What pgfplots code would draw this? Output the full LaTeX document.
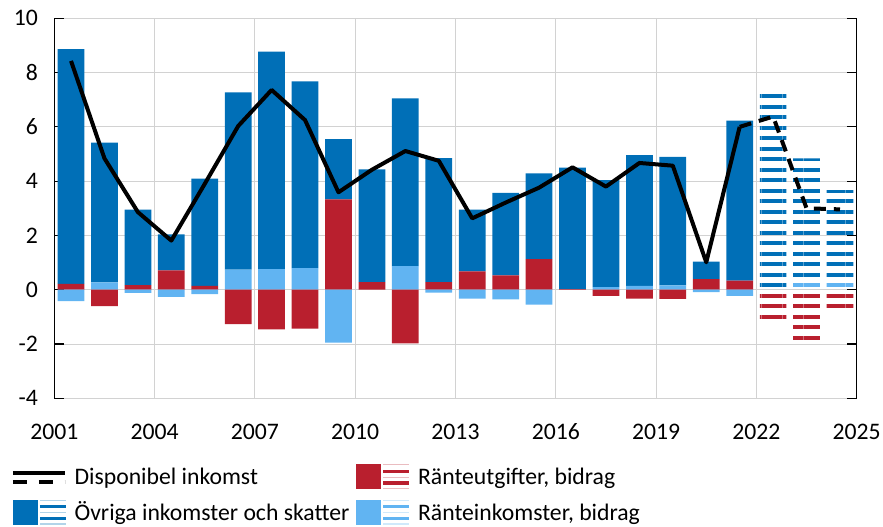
\documentclass[border=0pt]{standalone}
\usepackage{fontspec}
\setmainfont{Carlito}
\usepackage{pgfplots}
\usepackage{pgfplotstable}
\pgfplotsset{compat=1.18}
\usetikzlibrary{patterns.meta}
\definecolor{dblue}{RGB}{0,111,183}
\definecolor{lblue}{RGB}{97,180,242}
\definecolor{dred}{RGB}{185,31,46}
\definecolor{gridgray}{RGB}{210,210,210}
\tikzset{fstripe/.style={pattern={Lines[angle=0,distance=10.5bp,line width=4bp]},pattern color=#1}}
\pgfplotsset{stripeicon/.style={legend image code/.code={
    \path[fill=#1, draw=none] (0bp,-10.5bp) rectangle (25bp,14.5bp);
    \draw[#1!30, line width=1.2bp] (27bp,13.9bp) -- (53bp,13.9bp);
    \draw[#1!30, line width=1.2bp] (27bp,1.3bp) -- (53bp,1.3bp);
    \draw[#1!30, line width=1.2bp] (27bp,-9.9bp) -- (53bp,-9.9bp);
    \draw[#1, line width=3.2bp] (27bp,7.3bp) -- (53bp,7.3bp);
    \draw[#1, line width=3.2bp] (27bp,-4.4bp) -- (53bp,-4.4bp);}}}
\newcommand{\lf}{\fontsize{23.7bp}{28bp}\selectfont}

\pgfplotstableread{
year   redp  lbp   db    lbfp  dbf   redn   lbn    redfn  disp
2001.5 0.22  0     8.64  0     0     0      -0.42  0      8.43
2002.5 0     0.27  5.15  0     0     -0.60  0      0      4.84
2003.5 0.17  0     2.78  0     0     0      -0.12  0      2.86
2004.5 0.71  0     1.33  0     0     0      -0.26  0      1.81
2005.5 0.14  0     3.95  0     0     0      -0.16  0      3.90
2006.5 0     0.74  6.53  0     0     -1.27  0      0      6.03
2007.5 0     0.76  8.01  0     0     -1.46  0      0      7.36
2008.5 0     0.80  6.88  0     0     -1.43  0      0      6.25
2009.5 3.33  0     2.22  0     0     0      -1.95  0      3.59
2010.5 0.28  0     4.15  0     0     0      0      0      4.42
2011.5 0     0.87  6.18  0     0     -1.98  0      0      5.11
2012.5 0.28  0     4.57  0     0     0      -0.11  0      4.75
2013.5 0.68  0     2.27  0     0     0      -0.33  0      2.63
2014.5 0.53  0     3.04  0     0     0      -0.36  0      3.21
2015.5 1.13  0     3.16  0     0     0      -0.55  0      3.76
2016.5 0.02  0     4.48  0     0     0      0      0      4.51
2017.5 0     0.10  3.94  0     0     -0.23  0      0      3.80
2018.5 0     0.14  4.82  0     0     -0.33  0      0      4.67
2019.5 0     0.16  4.73  0     0     -0.34  0      0      4.57
2020.5 0.39  0     0.65  0     0     0      -0.09  0      1.01
2021.5 0.34  0     5.89  0     0     0      -0.23  0      6.00
2022.5 0     0     0     0     7.38  0      0      -1.08  6.38
2023.5 0     0     0     0.27  4.57  0      0      -1.90  3.00
2024.5 0     0     0     0.30  3.37  0      0      -0.78  2.96
}\data

\pgfplotsset{
  common/.style={
    scale only axis, width=802.4bp, height=380bp,
    xmin=2001, xmax=2025, ymin=-4, ymax=10,
  }
}
\begin{document}
\begin{tikzpicture}
\useasboundingbox (-54.3bp,-128.7bp) rectangle (828.7bp,398.3bp);
\begin{axis}[common, ybar stacked, bar width=0.8,
  separate axis lines,
  x axis line style={draw=none},
  y axis line style={black, line width=1.2bp},
  xtick={2001,2004,...,2025}, ytick={-4,-2,...,10},
  xmajorgrids, ymajorgrids,
  major grid style={gridgray, line width=1bp},
  tick align=inside, major tick length=10bp,
  xtick style={draw=none},
  ytick style={black, line width=1.2bp},
  yticklabel pos=left,
  tick label style={font=\lf},
  /pgf/number format/assume math mode=true,
  xticklabel style={/pgf/number format/1000 sep={}, yshift=-22bp},
  yticklabel style={xshift=-13bp},
  legend columns=2, legend cell align=left,
  legend style={draw=none, fill=none, inner sep=0pt, outer sep=0pt,
    at={(rel axis cs:0,0)}, anchor=north west, xshift=-43.3bp, yshift=-65.7bp,
    column sep=7bp, row sep=10bp, font=\lf,
    nodes={inner sep=0pt, text height=17bp, text depth=5bp}},
]
\addlegendimage{legend image code/.code={
  \draw[black, line width=4bp] (0bp,5.8bp) -- (52bp,5.8bp);
  \draw[black, line width=4bp, dash pattern=on 14bp off 12bp] (0bp,-3.8bp) -- (52bp,-3.8bp);}}
\addlegendentry{Disponibel inkomst}
\addlegendimage{stripeicon=dred}
\addlegendentry{Ränteutgifter, bidrag}
\addlegendimage{stripeicon=dblue}
\addlegendentry{Övriga inkomster och skatter}
\addlegendimage{stripeicon=lblue}
\addlegendentry{Ränteinkomster, bidrag}
\addplot[fill=dred, draw=none] table[x=year,y=redp]{\data};
\addplot[fill=lblue, draw=none] table[x=year,y=lbp]{\data};
\addplot[fill=dblue, draw=none] table[x=year,y=db]{\data};
\addplot[fstripe=lblue, draw=none] table[x=year,y=lbfp]{\data};
\addplot[fstripe=dblue, draw=none] table[x=year,y=dbf]{\data};
\end{axis}
\begin{axis}[common, ybar stacked, bar width=0.8, hide axis]
\addplot[fill=dred, draw=none] table[x=year,y=redn]{\data};
\addplot[fill=lblue, draw=none] table[x=year,y=lbn]{\data};
\addplot[fstripe=dred, draw=none] table[x=year,y=redfn]{\data};
\end{axis}
\begin{axis}[common, hide axis]
\addplot[black, line width=4bp, line join=round, restrict x to domain=2001:2022] table[x=year,y=disp]{\data};
\addplot[black, line width=4bp, dash pattern=on 12bp off 8bp, restrict x to domain=2021:2025] table[x=year,y=disp]{\data};
\end{axis}
\end{tikzpicture}
\end{document}
